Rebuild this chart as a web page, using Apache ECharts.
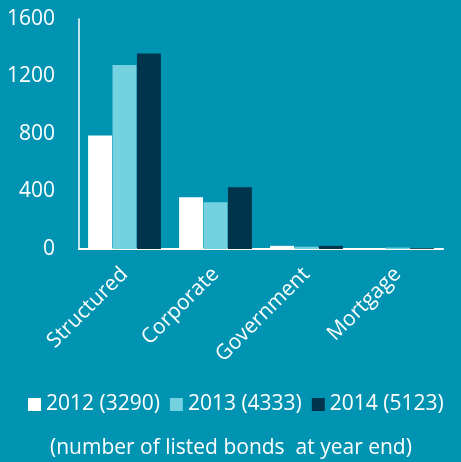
<!DOCTYPE html>
<html>
<head>
<meta charset="utf-8">
<script src="https://cdn.jsdelivr.net/npm/echarts@6/dist/echarts.min.js"></script>
<style>
  html, body { margin: 0; padding: 0; background: #0094b2; }
  #chart { width: 461px; height: 462px; }
</style>
</head>
<body>
<div id="chart"></div>
<script>
// 数据
const categories = ['Structured', 'Corporate', 'Government', 'Mortgage']
const seriesNames = ['2012 (3290)', '2013 (4333)', '2014 (5123)']
const values2012 = [790, 360, 22, 3]
const values2013 = [1280, 325, 16, 10]
const values2014 = [1360, 430, 22, 6]
const yTicks = [0, 400, 800, 1200, 1600]

const font = '"Open Sans", sans-serif'
const chart = echarts.init(document.getElementById('chart'))

const options = {
  backgroundColor: '#0094b2',
  textStyle: { fontFamily: font, color: '#fff' },
  // 底部说明
  title: {
    text: '(number of listed bonds  at year end)',
    left: 45,
    top: 433,
    textStyle: { color: '#fff', fontSize: 21, fontWeight: 'normal', fontFamily: font }
  },
  legend: {
    data: seriesNames,
    top: 389,
    left: 23,
    itemWidth: 13,
    itemHeight: 13,
    itemGap: 10,
    icon: 'rect',
    textStyle: { color: '#fff', fontSize: 21, fontFamily: font }
  },
  grid: {
    left: 79,
    top: 19,
    right: 18,
    bottom: 213,
    containLabel: false
  },
  xAxis: {
    type: 'category',
    data: categories,
    axisLine: { lineStyle: { color: '#fff', width: 2 } },
    axisTick: { show: false },
    axisLabel: {
      rotate: 45,
      margin: 22,
      color: '#fff',
      fontSize: 21,
      fontFamily: font
    }
  },
  yAxis: {
    type: 'value',
    min: yTicks[0],
    max: yTicks[yTicks.length - 1],
    interval: 400,
    axisLine: { show: true, lineStyle: { color: '#fff', width: 1.5 } },
    axisTick: { show: false },
    splitLine: { show: false },
    axisLabel: {
      color: '#fff',
      fontSize: 21,
      margin: 24,
      fontFamily: font,
      formatter: (v) => String(v)
    }
  },
  series: [
    {
      type: 'bar',
      name: seriesNames[0],
      data: values2012,
      itemStyle: { color: '#ffffff' },
      barGap: '2%',
      barCategoryGap: '20%'
    },
    {
      type: 'bar',
      name: seriesNames[1],
      data: values2013,
      itemStyle: { color: '#74d1e0' }
    },
    {
      type: 'bar',
      name: seriesNames[2],
      data: values2014,
      itemStyle: { color: '#00344c' }
    }
  ]
}

chart.setOption(options)
</script>
</body>
</html>
